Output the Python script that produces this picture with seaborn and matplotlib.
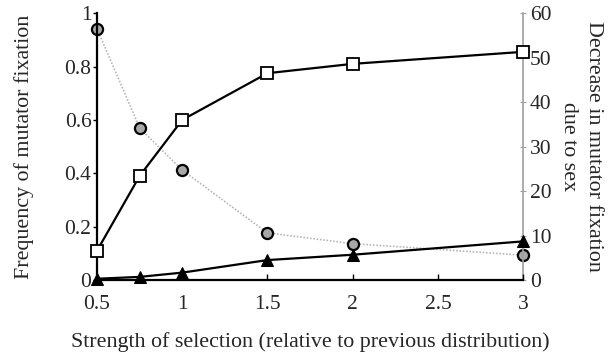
import matplotlib
matplotlib.use("Agg")
import matplotlib.pyplot as plt
import seaborn as sns
import pandas as pd

sns.set_theme(style="white")
plt.rcParams['font.family'] = ['Liberation Serif', 'DejaVu Serif']

strength = [0.5, 0.75, 1.0, 1.5, 2.0, 3.0]
freq_squares = [0.11, 0.39, 0.60, 0.775, 0.81, 0.855]
freq_triangles = [0.005, 0.012, 0.028, 0.075, 0.095, 0.145]
decrease_circles = [56.5, 34.2, 24.7, 10.6, 8.2, 5.6]

x_ticks = [0.5, 1, 1.5, 2, 2.5, 3]
x_ticklabels = ["0.5", "1", "1.5", "2", "2.5", "3"]
left_ticks = [0, 0.2, 0.4, 0.6, 0.8, 1]
left_ticklabels = ["0", "0.2", "0.4", "0.6", "0.8", "1"]
right_ticks = [0, 10, 20, 30, 40, 50, 60]

df = pd.DataFrame({"s": strength, "sq": freq_squares, "tri": freq_triangles, "circ": decrease_circles})

fig = plt.figure(figsize=(6.14, 3.55), dpi=100)
ax = fig.add_axes([0.158, 0.211, 0.694, 0.752])
ax2 = ax.twinx()

sns.lineplot(data=df, x="s", y="circ", ax=ax2, color="#b8b8b8", lw=1.2, linestyle=(0, (1, 1)),
             marker="o", markersize=8, markerfacecolor="#a8a8a8", markeredgecolor="black",
             markeredgewidth=1.6, clip_on=False)
sns.lineplot(data=df, x="s", y="sq", ax=ax, color="black", lw=1.6,
             marker="s", markersize=9, markerfacecolor="white", markeredgecolor="black",
             markeredgewidth=1.3, clip_on=False, zorder=5)
sns.lineplot(data=df, x="s", y="tri", ax=ax, color="black", lw=1.6,
             marker="^", markersize=9, markerfacecolor="black", markeredgecolor="black",
             clip_on=False, zorder=5)

ax.set_zorder(ax2.get_zorder() + 1)
ax.patch.set_visible(False)

ax.set_xlim(0.5, 3)
ax.set_ylim(0, 1)
ax2.set_ylim(0, 60)

ax.set_xticks(x_ticks)
ax.set_xticklabels(x_ticklabels)
ax.set_yticks(left_ticks)
ax.set_yticklabels(left_ticklabels)
ax2.set_yticks(right_ticks)

for sp in ["top"]:
    ax.spines[sp].set_visible(False)
    ax2.spines[sp].set_visible(False)
ax.spines["right"].set_visible(False)
ax2.spines["left"].set_visible(False)
ax2.spines["bottom"].set_visible(False)
ax.spines["left"].set_color("black")
ax.spines["left"].set_linewidth(1.6)
ax.spines["bottom"].set_color("black")
ax.spines["bottom"].set_linewidth(1.6)
ax2.spines["right"].set_color("#a0a0a0")
ax2.spines["right"].set_linewidth(1.2)
ax2.spines["right"].set_linestyle((0, (1, 1)))

ax.tick_params(axis="y", direction="out", length=3, width=1, color="black", labelsize=15.5, pad=1, left=True)
ax.tick_params(axis="x", direction="in", length=4, width=1, color="black", labelsize=15.5, pad=11, bottom=True)
ax2.tick_params(axis="y", direction="inout", length=4, width=0.8, color="#a0a0a0", labelsize=15.5, pad=3, right=True)

ax.set_xlabel("Strength of selection (relative to previous distribution)", fontsize=15.8, labelpad=13)
ax.set_ylabel("Frequency of mutator fixation", fontsize=15.8, labelpad=22)
ax2.set_ylabel("Decrease in mutator fixation\ndue to sex", fontsize=15.8, rotation=270,
               labelpad=37, linespacing=1.45)

fig.savefig("out.png", dpi=100)
